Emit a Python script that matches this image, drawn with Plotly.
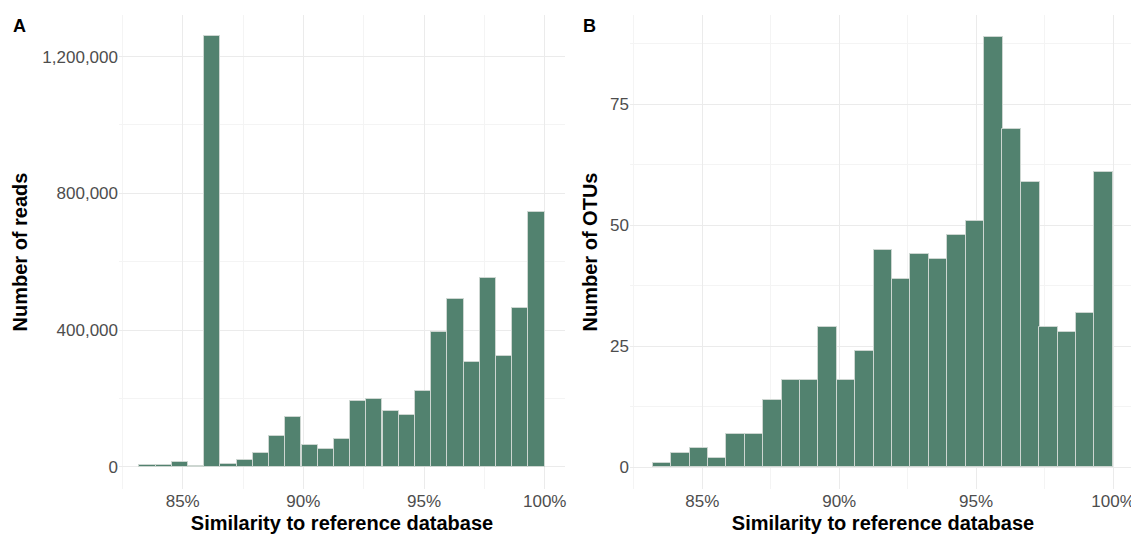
import plotly.graph_objects as go

# Bin centres (similarity, %) — 25 bins of equal width ending at 100%
bin_centers = [83.54, 84.21, 84.88, 85.55, 86.22, 86.90, 87.57, 88.24, 88.91, 89.58,
               90.26, 90.93, 91.60, 92.27, 92.94, 93.62, 94.29, 94.96, 95.63, 96.30,
               96.98, 97.65, 98.32, 98.99, 99.66]
bin_width = 0.672

# Panel A: number of reads per bin
reads = [4000, 4000, 15000, 3000, 1260000, 7000, 21000, 39000, 89000, 144000,
         63000, 53000, 81000, 192000, 198000, 164000, 151000, 221000, 395000, 491000,
         305000, 551000, 325000, 465000, 746000]

# Panel B: number of OTUs per bin
otus = [1, 3, 4, 2, 7, 7, 14, 18, 18, 29,
        18, 24, 45, 39, 44, 43, 48, 51, 89, 70,
        59, 29, 28, 32, 61]

x_title = "Similarity to reference database"
y_title_a = "Number of reads"
y_title_b = "Number of OTUs"
panel_labels = ["A", "B"]

FILL = "#52826F"
EDGE = "#cdd6d1"
FONT = "Liberation Sans, Arial, sans-serif"
MAJOR = "#ebebeb"
MINOR = "#f4f4f4"

# page body has an 8px margin; figure sized to the visible area
OFF = 8
W, H = 1139 - OFF, 535 - OFF


def px(x):
    return (x - OFF) / W


def py(y):
    return 1 - (y - OFF) / H


fig = go.Figure()
fig.add_trace(go.Bar(x=bin_centers, y=reads, width=[bin_width] * len(bin_centers),
                     marker=dict(color=FILL, line=dict(color=EDGE, width=1)),
                     xaxis="x", yaxis="y", showlegend=False))
fig.add_trace(go.Bar(x=bin_centers, y=otus, width=[bin_width] * len(bin_centers),
                     marker=dict(color=FILL, line=dict(color=EDGE, width=1)),
                     xaxis="x2", yaxis="y2", showlegend=False))

ydom = [py(489), py(15)]

xcommon = dict(range=[82.36, 100.84], tickmode="linear", tick0=85, dtick=5,
               ticksuffix="%", showgrid=True, gridcolor=MAJOR, gridwidth=1.2,
               zeroline=False, showline=False, ticks="",
               minor=dict(tick0=82.5, dtick=2.5, showgrid=True, gridcolor=MINOR, gridwidth=1),
               tickfont=dict(family=FONT, size=17, color="#4d4d4d"),
               title=dict(text="<b>" + x_title + "</b>", standoff=5,
                          font=dict(family=FONT, size=20, color="#000000")),
               automargin=False)

ycommon = dict(showgrid=True, gridcolor=MAJOR, gridwidth=1.2, zeroline=False,
               showline=False, ticks="",
               tickfont=dict(family=FONT, size=17, color="#4d4d4d"),
               automargin=False)

fig.update_layout(
    width=W, height=H,
    margin=dict(l=0, r=0, t=0, b=0),
    paper_bgcolor="white", plot_bgcolor="white",
    bargap=0,
    xaxis=dict(domain=[px(119), px(565)], anchor="y", **xcommon),
    xaxis2=dict(domain=[px(630), px(1136)], anchor="y2", **xcommon),
    yaxis=dict(domain=ydom, anchor="x", range=[-65300, 1321900], tickmode="linear",
               tick0=0, dtick=400000, tickformat=",d",
               minor=dict(tick0=0, dtick=200000, showgrid=True, gridcolor=MINOR, gridwidth=1),
               title=dict(text="<b>" + y_title_a + "</b>", standoff=9,
                          font=dict(family=FONT, size=20, color="#000000")),
               **ycommon),
    yaxis2=dict(domain=ydom, anchor="x2", range=[-4.45, 93.45], tickmode="linear",
                tick0=0, dtick=25,
                minor=dict(tick0=0, dtick=12.5, showgrid=True, gridcolor=MINOR, gridwidth=1),
                title=dict(text="<b>" + y_title_b + "</b>", standoff=7,
                           font=dict(family=FONT, size=20, color="#000000")),
                **ycommon),
    annotations=[
        dict(text="<b>" + panel_labels[0] + "</b>", x=px(11), y=py(14), xref="paper", yref="paper",
             xanchor="left", yanchor="top", showarrow=False,
             font=dict(family=FONT, size=18, color="#000000")),
        dict(text="<b>" + panel_labels[1] + "</b>", x=px(581), y=py(14), xref="paper", yref="paper",
             xanchor="left", yanchor="top", showarrow=False,
             font=dict(family=FONT, size=18, color="#000000")),
    ],
)

fig.write_html("out.html")
